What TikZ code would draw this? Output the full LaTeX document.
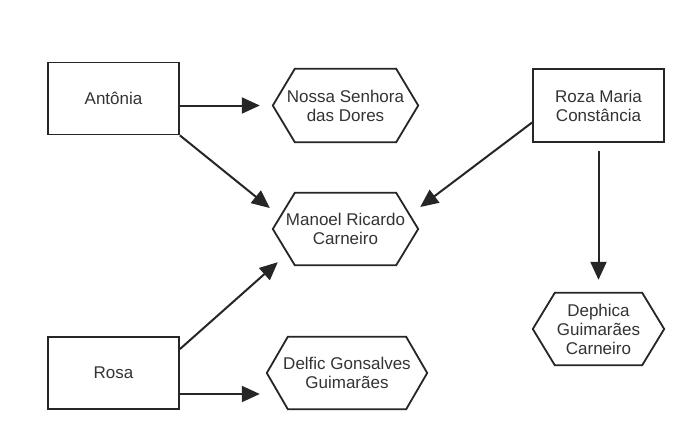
\documentclass[tikz,border=0pt]{standalone}
\usepackage{fontspec}
\setmainfont{Liberation Sans}
\usetikzlibrary{arrows.meta,calc}
\definecolor{linec}{HTML}{262626}
\definecolor{textc}{HTML}{333333}
\tikzset{
  boxnode/.style={draw=linec, line width=1.8pt, inner sep=0pt, align=center, text=textc,
    font=\fontsize{17}{19}\selectfont, minimum width=131pt, minimum height=72pt},
  hexnode/.style={draw=none, inner sep=0pt, align=center, text=textc,
    font=\fontsize{17}{19}\selectfont},
  hexline/.style={draw=linec, line width=1.8pt, line join=miter},
  conn/.style={draw=linec, line width=2pt, -{Triangle[length=18pt,width=16pt]}}
}
\newcommand\hexdraw[2]{\draw[hexline] (#1.west) -- ([xshift=#2]#1.north west) -- ([xshift=-#2]#1.north east) -- (#1.east) -- ([xshift=-#2]#1.south east) -- ([xshift=#2]#1.south west) -- cycle;}
\begin{document}
\begin{tikzpicture}[x=1pt,y=-1pt]
\useasboundingbox (0,0) rectangle (689,432);
\fill[white] (0,0) rectangle (689,432);
% rectangles
\node[boxnode] (anto) at (113.5,98.5) {Antônia};
\node[boxnode] (rosa) at (113.5,373) {Rosa};
\node[boxnode, minimum height=73pt] (roza) at (598.5,105.5) {Roza Maria\\Constância};
% hexagons
\node[hexnode, minimum width=145pt, minimum height=73pt] (nossa) at (345.5,105.5) {Nossa Senhora\\das Dores};
\node[hexnode, minimum width=145pt, minimum height=72pt] (manoel) at (345.5,229) {Manoel Ricardo\\Carneiro};
\node[hexnode, minimum width=160pt, minimum height=72pt] (delfic) at (347,373) {Delfic Gonsalves\\Guimarães};
\node[hexnode, minimum width=131pt, minimum height=72pt] (dephica) at (598.5,329) {Dephica\\Guimarães\\Carneiro};
\hexdraw{nossa}{22pt}
\hexdraw{manoel}{22pt}
\hexdraw{delfic}{21pt}
\hexdraw{dephica}{22pt}
% connectors
\draw[conn, shorten >=13pt] (anto.east |- nossa.west) -- (nossa.west);
\draw[conn] (anto.south east) -- ($(manoel.west)+(-3,-21)$);
\draw[conn] ($(rosa.north east)+(0,13)$) -- ($(manoel.south west)+(5,-3)$);
\draw[conn] ($(rosa.east)+(0,21)$) -- ($(delfic.west)+(-7,21)$);
\draw[conn] ($(roza.west)+(0,17)$) -- ($(manoel.east)+(2,-22)$);
\draw[conn] ($(roza.south)+(0,8)$) -- ($(dephica.north)+(0,-13)$);
\end{tikzpicture}
\end{document}
